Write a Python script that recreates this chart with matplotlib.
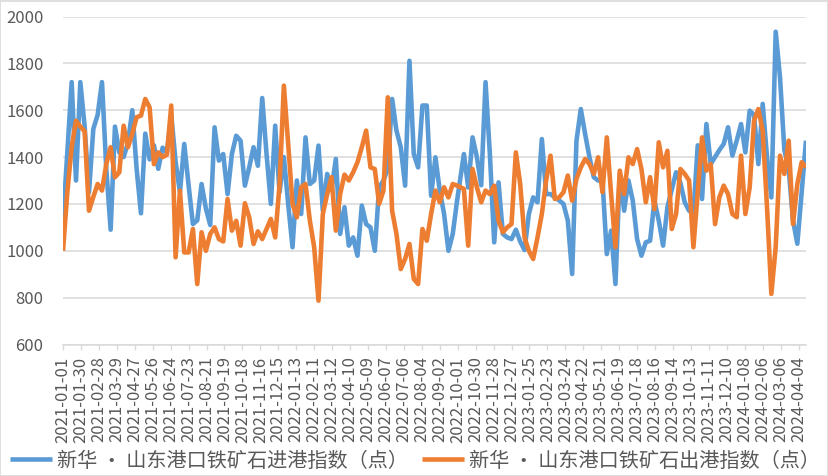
import matplotlib
matplotlib.use('Agg')
import matplotlib.pyplot as plt
from matplotlib.patches import Rectangle
import pandas as pd

plt.rcParams['font.family'] = ['Noto Sans CJK SC', 'DejaVu Sans']

# weekly publication dates (schedule shifts after the 2022 National Day holiday)
dates = pd.date_range('2021-01-01', periods=92, freq='7D').append(
    pd.date_range('2022-10-11', periods=80, freq='7D'))

inbound = [
    1130, 1420, 1720, 1300, 1720, 1530, 1250, 1520, 1580, 1720,
    1350, 1090, 1530, 1420, 1400, 1460, 1600, 1350, 1160, 1500,
    1390, 1450, 1350, 1440, 1420, 1580, 1380, 1250, 1456, 1280,
    1114, 1130, 1285, 1180, 1110, 1527, 1385, 1413, 1242, 1413,
    1491, 1470, 1278, 1356, 1442, 1363, 1652, 1413, 1200, 1534,
    1250, 1400, 1200, 1015, 1300, 1157, 1484, 1285, 1300, 1449,
    1171, 1328, 1260, 1392, 1072, 1186, 1022, 1057, 979, 1193,
    1114, 1100, 1000, 1271, 1300, 1350, 1648, 1513, 1442, 1278,
    1811, 1413, 1356, 1620, 1620, 1235, 1399, 1257, 1157, 1000,
    1072, 1214, 1413, 1270, 1484, 1400, 1280, 1720, 1413, 1036,
    1292, 1072, 1057, 1050, 1090, 1040, 1003, 1157, 1228, 1207,
    1477, 1242, 1242, 1228, 1215, 1200, 1129, 901, 1470, 1605,
    1498, 1399, 1314, 1300, 1300, 986, 1086, 858, 1328, 1171,
    1300, 1214, 1050, 979, 1036, 1043, 1214, 1129, 1022, 1186,
    1260, 1335, 1290, 1207, 1171, 1160, 1450, 1221, 1541, 1370,
    1400, 1430, 1456, 1527, 1406, 1470, 1541, 1420, 1598, 1580,
    1370, 1627, 1400, 1228, 1935, 1740, 1430, 1350, 1130, 1030,
    1250, 1470,
]

outbound = [
    1000, 1250, 1442, 1555, 1530, 1510, 1171, 1230, 1285, 1257,
    1370, 1442, 1314, 1335, 1534, 1442, 1500, 1570, 1577, 1648,
    1612, 1370, 1420, 1400, 1410, 1620, 972, 1257, 993, 993,
    1093, 858, 1079, 1000, 1072, 1100, 1050, 1040, 1221, 1086,
    1128, 1022, 1203, 1143, 1029, 1083, 1050, 1093, 1136, 1057,
    1280, 1705, 1456, 1200, 1143, 1271, 1285, 1129, 1015, 787,
    1157, 1242, 1314, 1086, 1242, 1325, 1300, 1335, 1378, 1442,
    1513, 1356, 1349, 1200, 1257, 1655, 1171, 1072, 922, 965,
    1029, 880, 858, 1093, 1043, 1157, 1257, 1207, 1271, 1228,
    1285, 1278, 1264, 1022, 1349, 1271, 1207, 1257, 1242, 1278,
    1129, 1079, 1100, 1114, 1420, 1285, 1057, 1000, 965, 1057,
    1157, 1300, 1406, 1221, 1228, 1250, 1321, 1214, 1307, 1356,
    1392, 1370, 1328, 1399, 1250, 1484, 1242, 1015, 1342, 1242,
    1399, 1370, 1434, 1349, 1207, 1314, 1178, 1463, 1356, 1427,
    1093, 1157, 1349, 1328, 1300, 1015, 1250, 1484, 1342, 1370,
    1114, 1228, 1278, 1242, 1157, 1143, 1406, 1157, 1271, 1555,
    1605, 1513, 1186, 816, 1015, 1406, 1328, 1470, 1114, 1285,
    1378, 1356,
]

series_names = ['新华 • 山东港口铁矿石进港指数（点）', '新华 • 山东港口铁矿石出港指数（点）']
series_colors = ['#5B9BD5', '#ED7D31']
tick_dates = pd.date_range('2021-01-01', '2024-04-04', freq='29D')
tick_labels = [d.strftime('%Y-%m-%d') for d in tick_dates]
y_ticks = [600, 800, 1000, 1200, 1400, 1600, 1800, 2000]

W, H = 829, 476
fig = plt.figure(figsize=(W / 100, H / 100), dpi=100)
left, right, top, bottom = 63, 806, 16.5, 344.5
ax = fig.add_axes([left / W, 1 - bottom / H, (right - left) / W, (bottom - top) / H])

for vals, name, col in zip([inbound, outbound], series_names, series_colors):
    ax.plot(dates, vals, color=col, lw=3.3, label=name,
            solid_joinstyle='round', solid_capstyle='butt')

ax.set_xlim(dates[0], dates[-1])
ax.set_ylim(600, 2000)
ax.set_yticks(y_ticks)
ax.set_yticklabels([str(v) for v in y_ticks])
ax.grid(axis='y', color='#D9D9D9', lw=1.1)
ax.set_axisbelow(True)
for s in ['top', 'right', 'left']:
    ax.spines[s].set_visible(False)
ax.spines['bottom'].set_color('#D9D9D9')
ax.spines['bottom'].set_linewidth(1.1)
ax.tick_params(axis='y', length=0, pad=14, labelsize=12, labelcolor='#595959')
ax.set_xticks(tick_dates)
ax.set_xticklabels(tick_labels, rotation=90)
ax.tick_params(axis='x', length=3.6, width=1, color='#D9D9D9', pad=5,
               labelsize=12, labelcolor='#595959')

leg = fig.legend(loc='center', bbox_to_anchor=(0.5006, 0.0315), ncol=2,
                 frameon=False, fontsize=14.5, handlelength=2.1,
                 handletextpad=0.25, columnspacing=0.7, borderpad=0,
                 borderaxespad=0)
for t in leg.get_texts():
    t.set_color('#595959')

fig.patches.append(Rectangle((0.5 / W, 0.5 / H), 1 - 1.5 / W, 1 - 1.5 / H,
                             transform=fig.transFigure, fill=False,
                             edgecolor='#D9D9D9', lw=1.2))

fig.savefig('out.png', dpi=100)
